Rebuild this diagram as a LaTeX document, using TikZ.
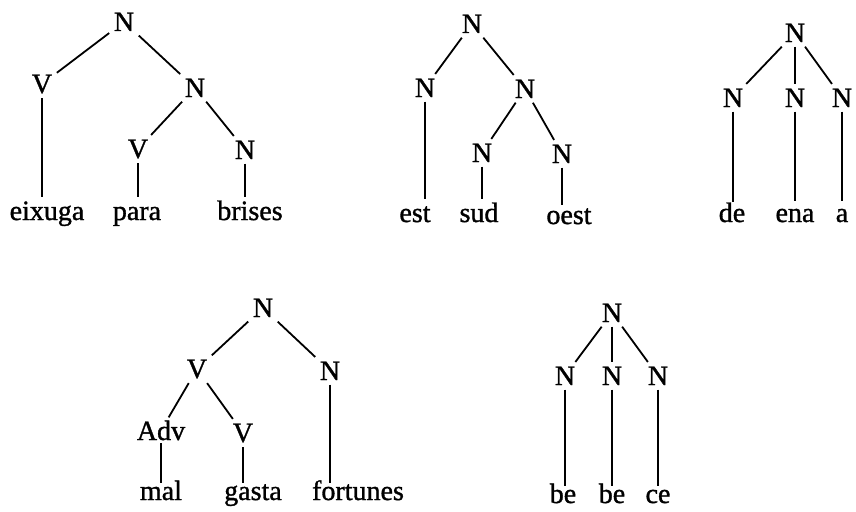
\documentclass[tikz,border=0pt]{standalone}
\usepackage{fontspec}
\setmainfont[FakeBold=1.2]{Liberation Serif}
\begin{document}
\begin{tikzpicture}[x=1pt,y=-1pt,
  lab/.style={anchor=base, inner sep=4.5pt, font=\fontsize{28}{30}\selectfont},
  leaf/.style={anchor=base, inner sep=4pt, text height=19pt, font=\fontsize{28}{30}\selectfont},
  lowleaf/.style={leaf, text height=13pt},
  edge/.style={line width=1.8pt}]
\path[use as bounding box] (0,0) rectangle (856,511);

% eixuga para brises
\node[lab] (a0) at (124,31) {N};
\node[lab] (a1) at (42,93) {V};
\node[lab] (a2) at (195,97) {N};
\node[lab] (a3) at (138,158) {V};
\node[lab] (a4) at (245,159) {N};
\node[leaf] (a5) at (47,220) {eixuga};
\node[leaf] (a6) at (137,220) {para};
\node[leaf] (a7) at (250,220) {brises};
\draw[edge] (a0) -- (a1);
\draw[edge] (a0) -- (a2);
\draw[edge] (a2) -- (a3);
\draw[edge] (a2) -- (a4);
\draw[edge] (a1.south) -- (a1.south |- a5.north);
\draw[edge] (a3.south) -- (a3.south |- a6.north);
\draw[edge] (a4.south) -- (a4.south |- a7.north);

% est sud oest
\node[lab] (b0) at (472,33) {N};
\node[lab] (b1) at (425,97) {N};
\node[lab] (b2) at (525,98) {N};
\node[lab] (b3) at (482,162) {N};
\node[lab] (b4) at (562,163) {N};
\node[leaf] (b5) at (415,222) {est};
\node[leaf] (b6) at (479,222) {sud};
\node[leaf, text height=15pt] (b7) at (569,224) {oest};
\draw[edge] (b0) -- (b1);
\draw[edge] (b0) -- (b2);
\draw[edge] (b2) -- (b3);
\draw[edge] (b2) -- (b4);
\draw[edge] (b1.south) -- (b1.south |- b5.north);
\draw[edge] (b3.south) -- (b3.south |- b6.north);
\draw[edge] (b4.south) -- (b4.south |- b7.north);

% de ena a
\node[lab] (c0) at (795,42) {N};
\node[lab] (c1) at (733,107) {N};
\node[lab] (c2) at (795,107) {N};
\node[lab] (c3) at (842,107) {N};
\node[leaf, text height=16pt] (c4) at (732,222) {de};
\node[leaf, text height=17pt] (c5) at (795,222) {ena};
\node[leaf, text height=17pt] (c6) at (842,222) {a};
\draw[edge] (c0) -- (c1);
\draw[edge] (c0) -- (c2);
\draw[edge] (c0) -- (c3);
\draw[edge] (c1.south) -- (c1.south |- c4.north);
\draw[edge] (c2.south) -- (c2.south |- c5.north);
\draw[edge] (c3.south) -- (c3.south |- c6.north);

% mal gasta fortunes
\node[lab] (d0) at (263,317) {N};
\node[lab] (d1) at (197,378) {V};
\node[lab] (d2) at (330,380) {N};
\node[lab, inner sep=3pt] (d3) at (161,440) {Adv};
\node[lab] (d4) at (243,442) {V};
\node[lowleaf] (d5) at (161,500) {mal};
\node[lowleaf] (d6) at (253,500) {gasta};
\node[lowleaf] (d7) at (358,500) {fortunes};
\draw[edge] (d0) -- (d1);
\draw[edge] (d0) -- (d2);
\draw[edge] (d1) -- (d3);
\draw[edge] (d1) -- (d4);
\draw[edge] (d3.south) -- (d3.south |- d5.north);
\draw[edge] (d4.south) -- (d4.south |- d6.north);
\draw[edge] (d2.south) -- (d2.south |- d7.north);

% be be ce
\node[lab] (e0) at (612,322) {N};
\node[lab] (e1) at (565,385) {N};
\node[lab] (e2) at (612,385) {N};
\node[lab] (e3) at (658,385) {N};
\node[lowleaf] (e4) at (563,503) {be};
\node[lowleaf] (e5) at (612,503) {be};
\node[lowleaf] (e6) at (658,503) {ce};
\draw[edge] (e0) -- (e1);
\draw[edge] (e0) -- (e2);
\draw[edge] (e0) -- (e3);
\draw[edge] (e1.south) -- (e1.south |- e4.north);
\draw[edge] (e2.south) -- (e2.south |- e5.north);
\draw[edge] (e3.south) -- (e3.south |- e6.north);
\end{tikzpicture}
\end{document}
